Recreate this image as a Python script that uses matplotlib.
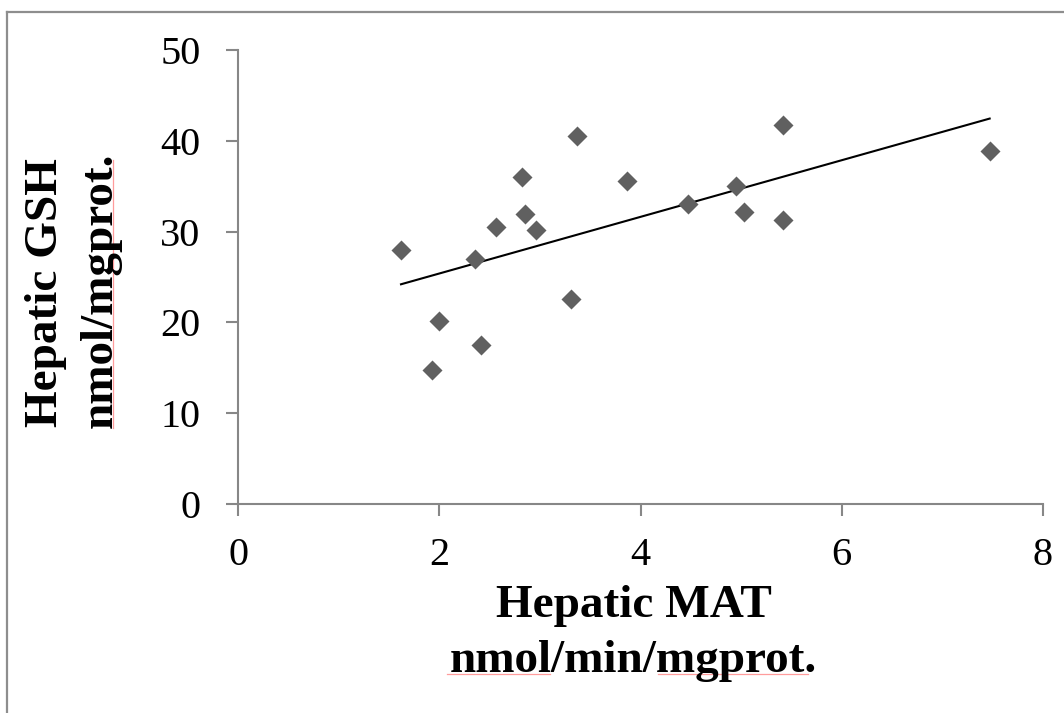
import numpy as np
import matplotlib
matplotlib.use("Agg")
import matplotlib.pyplot as plt
from matplotlib.lines import Line2D

# ---- data ----
mat = [1.62, 2.00, 1.925, 2.36, 2.41, 2.56, 2.82, 2.855, 2.96, 3.31,
       3.37, 3.865, 4.47, 4.95, 5.03, 5.42, 5.42, 7.47]
gsh = [28.0, 20.1, 14.8, 27.0, 17.5, 30.5, 36.0, 31.9, 30.2, 22.6,
       40.5, 35.6, 33.0, 35.0, 32.2, 41.7, 31.3, 38.9]
x_ticks = [0, 2, 4, 6, 8]
y_ticks = [0, 10, 20, 30, 40, 50]
x_label = ["Hepatic MAT", "nmol/min/mgprot."]
y_label = ["Hepatic GSH", "nmol/mgprot."]

W, H = 1064, 713
fig = plt.figure(figsize=(W / 100, H / 100), dpi=100)
plt.rcParams['font.family'] = ['Liberation Serif', 'DejaVu Serif']

def fx(px):
    return px / W

def fy(py):
    return 1 - py / H

ax = fig.add_axes([fx(238), fy(504), fx(1043) - fx(238), fy(50) - fy(504)])
ax.set_xlim(0, 8)
ax.set_ylim(0, 50)

x = np.array(mat)
y = np.array(gsh)
ax.scatter(x, y, marker='D', s=10.2 ** 2, color='#606060', zorder=3,
           linewidths=0)
k, b = np.polyfit(x, y, 1)
xx = np.array([x.min(), x.max()])
ax.plot(xx, k * xx + b, color='black', lw=1.5, zorder=2)

spine_c = '#878787'
for s in ['top', 'right']:
    ax.spines[s].set_visible(False)
for s in ['left', 'bottom']:
    ax.spines[s].set_color(spine_c)
    ax.spines[s].set_linewidth(1.5)

ax.set_xticks(x_ticks)
ax.set_yticks(y_ticks)
ax.tick_params(axis='both', colors=spine_c, labelcolor='black', width=1.5,
               length=8.6, direction='out', labelsize=29)
ax.tick_params(axis='x', pad=15)
ax.tick_params(axis='y', pad=18.5)
for lab in ax.get_xticklabels() + ax.get_yticklabels():
    lab.set_fontfamily('Liberation Serif')

# axis titles (two lines each)
fig.text(fx(634), fy(617), x_label[0], ha='center', va='baseline',
         fontsize=34, fontweight='bold', family='Liberation Serif')
fig.text(fx(633), fy(672), x_label[1], ha='center', va='baseline',
         fontsize=34, fontweight='bold', family='Liberation Serif')
fig.text(fx(57), fy(293), y_label[0], ha='center', va='baseline',
         rotation=90, rotation_mode='anchor',
         fontsize=34, fontweight='bold', family='Liberation Serif')
fig.text(fx(112), fy(290), y_label[1], ha='center', va='baseline',
         rotation=90, rotation_mode='anchor',
         fontsize=34, fontweight='bold', family='Liberation Serif')

# spell-check underlines seen in the picture
red = '#ff9c9c'
for (x0, x1) in [(447, 550), (658, 808)]:
    fig.add_artist(Line2D([fx(x0), fx(x1)], [fy(674), fy(674)],
                          transform=fig.transFigure, color=red, lw=0.9))
fig.add_artist(Line2D([fx(113), fx(113)], [fy(160), fy(428)],
                      transform=fig.transFigure, color=red, lw=0.9))

# chart-area border (left and top edges visible)
border_c = '#8e8e8e'
fig.add_artist(Line2D([fx(7), fx(7)], [fy(12), 0], transform=fig.transFigure,
                      color=border_c, lw=1.6))
fig.add_artist(Line2D([fx(7), 1], [fy(12), fy(12)], transform=fig.transFigure,
                      color=border_c, lw=1.6))

fig.savefig('out.png', dpi=100)
